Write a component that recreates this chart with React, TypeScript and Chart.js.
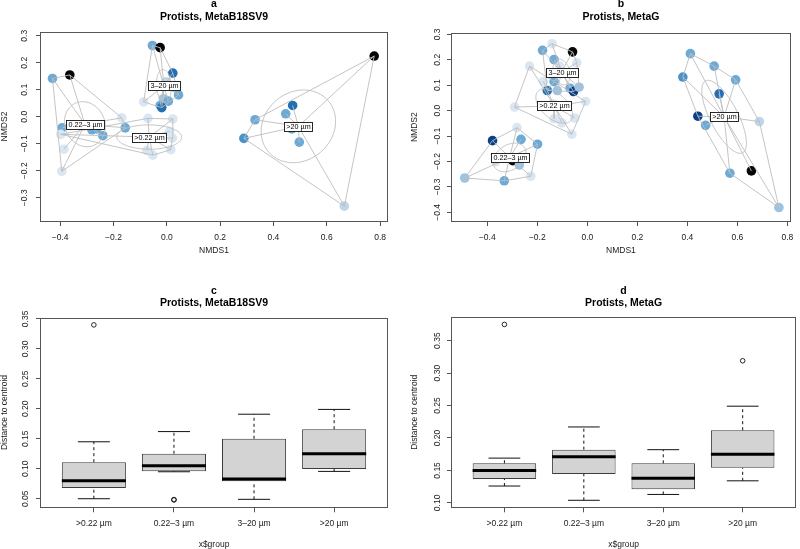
import React, { useEffect, useRef } from "react";
import { Chart, registerables } from "chart.js";

Chart.register(...registerables);

const FONT = "'Liberation Sans', Arial, Helvetica, sans-serif";

// ---------- categories & ticks ----------
const groupNames = [">0.22 µm", "0.22–3 µm", "3–20 µm", ">20 µm"];
const nmdsXTicks = [-0.4, -0.2, 0.0, 0.2, 0.4, 0.6, 0.8];
const aYTicks = [-0.3, -0.2, -0.1, 0.0, 0.1, 0.2, 0.3];
const bYTicks = [-0.4, -0.3, -0.2, -0.1, 0.0, 0.1, 0.2, 0.3];
const boxXTicks = [1, 2, 3, 4];
const cYTicks = [0.05, 0.1, 0.15, 0.2, 0.25, 0.3, 0.35];
const dYTicks = [0.1, 0.15, 0.2, 0.25, 0.3, 0.35];

// ---------- panel a : NMDS, MetaB18SV9 ----------
const aG1X = [-0.398, -0.071, 0.0225, 0.01, 0.021, 0.015, -0.075, -0.0525];
const aG1Y = [-0.065, -0.006, -0.008, -0.054, -0.079, -0.122, -0.125, -0.142];
const aG1Shade = [0, 0, 0, 0, 0, 0, 0, 0];
const aG2X = [-0.429, -0.364, -0.393, -0.386, -0.394, -0.281, -0.2625, -0.24, -0.156, -0.169];
const aG2Y = [0.142, 0.155, -0.041, -0.12, -0.202, -0.048, -0.045, -0.07, -0.041, -0.004];
const aG2Shade = [3, 7, 3, 0, 0, 3, 3, 3, 3, 0];
const aG3X = [-0.087, -0.054, -0.025, 0.0225, -0.003, 0.032, 0.044, -0.013, 0.006, -0.025, -0.019];
const aG3Y = [0.055, 0.264, 0.256, 0.162, 0.13, 0.109, 0.081, 0.067, 0.058, 0.042, 0.034];
const aG3Shade = [0, 3, 7, 5, 1, 2, 3, 2, 3, 3, 5];
const aG4X = [0.778, 0.472, 0.446, 0.331, 0.289, 0.497, 0.469, 0.666];
const aG4Y = [0.225, 0.042, 0.011, -0.011, -0.08, -0.094, -0.045, -0.331];
const aG4Shade = [7, 5, 3, 3, 4, 3, 3, 1];

// ---------- panel b : NMDS, MetaG ----------
const bG1X = [-0.291, -0.137, -0.133, -0.102, -0.05, -0.062, -0.007, -0.231, -0.176];
const bG1Y = [0.014, 0.027, -0.032, -0.048, -0.029, -0.093, 0.036, 0.175, 0.114];
const bG1Shade = [0, 0, 0, 0, 0, 0, 0, 0, 0];
const bG2X = [-0.379, -0.265, -0.199, -0.298, -0.272, -0.366, -0.226, -0.332, -0.49, -0.281];
const bG2Y = [-0.118, -0.113, -0.132, -0.197, -0.214, -0.201, -0.258, -0.276, -0.265, -0.067];
const bG2Shade = [6, 3, 3, 7, 2, 0, 0, 3, 2, 0];
const bG3X = [-0.141, -0.179, -0.059, -0.133, -0.111, -0.042, -0.133, -0.16, -0.12, -0.069, -0.055, -0.033];
const bG3Y = [0.263, 0.237, 0.231, 0.201, 0.175, 0.188, 0.114, 0.079, 0.079, 0.088, 0.075, 0.092];
const bG3Shade = [0, 3, 7, 3, 0, 0, 3, 5, 2, 3, 6, 2];
const bG4X = [0.412, 0.507, 0.382, 0.593, 0.527, 0.442, 0.473, 0.688, 0.57, 0.656, 0.766];
const bG4Y = [0.224, 0.175, 0.132, 0.121, 0.066, -0.022, -0.058, -0.043, -0.246, -0.237, -0.381];
const bG4Shade = [3, 3, 4, 3, 5, 6, 3, 1, 3, 7, 2];

// ---------- panel c : distances, MetaB18SV9 ----------
const cLower = [0.05, 0.095, 0.049, 0.0956];
const cQ1 = [0.068, 0.096, 0.079, 0.0995];
const cMedian = [0.08, 0.105, 0.083, 0.125];
const cQ3 = [0.111, 0.125, 0.15, 0.166];
const cUpper = [0.145, 0.162, 0.191, 0.199];
const cOutGroup = [1, 2, 2];
const cOutValue = [0.34, 0.048, 0.0486];

// ---------- panel d : distances, MetaG ----------
const dLower = [0.126, 0.104, 0.113, 0.134];
const dQ1 = [0.137, 0.1445, 0.121, 0.154];
const dMedian = [0.15, 0.171, 0.138, 0.175];
const dQ3 = [0.161, 0.182, 0.161, 0.212];
const dUpper = [0.169, 0.217, 0.182, 0.249];
const dOutGroup = [1, 4];
const dOutValue = [0.375, 0.319];

// ---------- styles ----------
const SHADES = ["#dae6f2", "#bed5ea", "#9cc4e2", "#6daad6", "#4a93c8", "#236fb3", "#0c3f86", "#050505"];
const LINE = "#bdbdbd";
const AXIS = "#555555";
const TXT = "#1a1a1a";
const CHI95 = Math.sqrt(5.991); // sqrt of chi-square 0.95 quantile, 2 df (ordiellipse se, conf = 0.95)

function fmtNum(v: number, d: number) {
  const s = Math.abs(v).toFixed(d);
  return (v < -1e-9 ? "\u2212" : "") + s;
}
function mean(a: number[]) {
  return a.reduce((s, v) => s + v, 0) / a.length;
}
type P = { x: number; y: number };
function convexHull(pts: P[]): P[] {
  const p = pts.slice().sort((a, b) => a.x - b.x || a.y - b.y);
  const cross = (o: P, a: P, b: P) => (a.x - o.x) * (b.y - o.y) - (a.y - o.y) * (b.x - o.x);
  const lower: P[] = [];
  for (const q of p) {
    while (lower.length >= 2 && cross(lower[lower.length - 2], lower[lower.length - 1], q) <= 0) lower.pop();
    lower.push(q);
  }
  const upper: P[] = [];
  for (let i = p.length - 1; i >= 0; i--) {
    const q = p[i];
    while (upper.length >= 2 && cross(upper[upper.length - 2], upper[upper.length - 1], q) <= 0) upper.pop();
    upper.push(q);
  }
  upper.pop();
  lower.pop();
  return lower.concat(upper);
}
function groupGeom(x: number[], y: number[]) {
  const n = x.length;
  const cx = mean(x);
  const cy = mean(y);
  let sxx = 0, syy = 0, sxy = 0;
  for (let i = 0; i < n; i++) {
    const dx = x[i] - cx, dy = y[i] - cy;
    sxx += dx * dx; syy += dy * dy; sxy += dx * dy;
  }
  sxx /= (n - 1) * n; syy /= (n - 1) * n; sxy /= (n - 1) * n;
  const l11 = Math.sqrt(sxx);
  const l21 = sxy / l11;
  const l22 = Math.sqrt(Math.max(syy - l21 * l21, 0));
  return { cx, cy, l11, l21, l22 };
}

const framePlugin = {
  id: "rframe",
  afterDraw(chart: any) {
    const { ctx, chartArea: a } = chart;
    ctx.save();
    ctx.strokeStyle = AXIS;
    ctx.lineWidth = 1;
    const l = Math.round(a.left) - 0.5, t = Math.round(a.top) + 0.5;
    const r = Math.round(a.right) + 0.5, b = Math.round(a.bottom) + 0.5;
    ctx.strokeRect(l, t, r - l, b - t);
    ctx.restore();
  },
};

function overlayPlugin(geoms: any[]) {
  return {
    id: "ordiOverlay",
    afterDatasetsDraw(chart: any) {
      const { ctx, chartArea: a } = chart;
      const xs = chart.scales.x, ys = chart.scales.y;
      ctx.save();
      ctx.beginPath();
      ctx.rect(a.left, a.top, a.right - a.left, a.bottom - a.top);
      ctx.clip();
      ctx.strokeStyle = LINE;
      ctx.lineWidth = 0.9;
      geoms.forEach((g) => {
        ctx.beginPath();
        for (let k = 0; k <= 120; k++) {
          const th = (k / 120) * Math.PI * 2;
          const ex = g.cx + CHI95 * g.l11 * Math.cos(th);
          const ey = g.cy + CHI95 * (g.l21 * Math.cos(th) + g.l22 * Math.sin(th));
          const px = xs.getPixelForValue(ex), py = ys.getPixelForValue(ey);
          if (k === 0) ctx.moveTo(px, py); else ctx.lineTo(px, py);
        }
        ctx.closePath();
        ctx.stroke();
      });
      ctx.font = `7.2px ${FONT}`;
      ctx.textAlign = "center";
      ctx.textBaseline = "middle";
      geoms.forEach((g) => {
        const px = xs.getPixelForValue(g.cx), py = ys.getPixelForValue(g.cy);
        const w = ctx.measureText(g.label).width + 4;
        const h = 9;
        const l = Math.round(px - w / 2) + 0.5, t = Math.round(py - h / 2) + 0.5;
        ctx.fillStyle = "#ffffff";
        ctx.fillRect(l, t, Math.round(w), h);
        ctx.strokeStyle = "#111";
        ctx.lineWidth = 0.9;
        ctx.strokeRect(l, t, Math.round(w), h);
        ctx.fillStyle = "#000";
        ctx.fillText(g.label, l + Math.round(w) / 2, t + h / 2 + 0.3);
      });
      ctx.restore();
    },
  };
}

function titleOpts(letter: string, title: string, padTop: number, padBottom: number) {
  return {
    display: true,
    text: [letter, title],
    fullSize: false,
    color: "#000",
    font: { family: FONT, size: 10.5, weight: "bold", lineHeight: 1.2 },
    padding: { top: padTop, bottom: padBottom },
  };
}

const gridOpts = { display: true, drawOnChartArea: false, drawTicks: true, tickLength: 5, color: AXIS, lineWidth: 1, offset: false };

function axisX(min: number, max: number, ticks: number[], fmt: (v: number) => string, title: string, height: number, tickPad: number, titlePadBottom: number) {
  return {
    type: "linear", min, max, offset: false,
    afterBuildTicks: (s: any) => { s.ticks = ticks.map((v) => ({ value: v })); },
    afterFit: (s: any) => { s.height = height; },
    grid: gridOpts,
    border: { display: false },
    ticks: { autoSkip: false, maxRotation: 0, minRotation: 0, padding: tickPad, color: TXT, font: { family: FONT, size: 8.5 }, callback: (v: any) => fmt(Number(v)) },
    title: { display: true, text: title, color: TXT, font: { family: FONT, size: 8.5 }, padding: { top: 0, bottom: titlePadBottom } },
  };
}
function axisY(min: number, max: number, ticks: number[], fmt: (v: number) => string, title: string, width: number, tickPad: number, titlePadTop: number) {
  return {
    type: "linear", min, max, offset: false,
    afterBuildTicks: (s: any) => { s.ticks = ticks.map((v) => ({ value: v })); },
    afterFit: (s: any) => { s.width = width; },
    grid: gridOpts,
    border: { display: false },
    ticks: { autoSkip: false, minRotation: 90, maxRotation: 90, crossAlign: "center", padding: tickPad, color: TXT, font: { family: FONT, size: 8.5 }, callback: (v: any) => fmt(Number(v)) },
    title: { display: true, text: title, color: TXT, font: { family: FONT, size: 8.5 }, padding: { top: titlePadTop, bottom: 0 } },
  };
}

function lineDs(data: any[], color: string, width: number, order: number, dash: number[] = []) {
  return { type: "line", data, borderColor: color, borderWidth: width, borderDash: dash, pointRadius: 0, pointHitRadius: 0, fill: false, tension: 0, spanGaps: false, borderCapStyle: "butt", order };
}

type Grp = { x: number[]; y: number[]; shade: number[] };

function nmdsConfig(p: any) {
  const datasets: any[] = [];
  const geoms: any[] = [];
  p.groups.forEach((g: Grp, gi: number) => {
    const pts = g.x.map((x, i) => ({ x, y: g.y[i] }));
    const ge = groupGeom(g.x, g.y);
    geoms.push({ ...ge, label: groupNames[gi] });
    const hull = convexHull(pts);
    hull.push(hull[0]);
    datasets.push(lineDs(hull, LINE, 0.9, 1));
    const spider: any[] = [];
    pts.forEach((pt) => { spider.push({ x: ge.cx, y: ge.cy }, pt, { x: null, y: null }); });
    datasets.push(lineDs(spider, LINE, 0.9, 1));
  });
  p.groups.forEach((g: Grp) => {
    datasets.push({
      type: "scatter",
      data: g.x.map((x, i) => ({ x, y: g.y[i] })),
      pointRadius: 4.8,
      pointHoverRadius: 4.8,
      pointBackgroundColor: g.shade.map((s) => SHADES[s]),
      pointBorderWidth: 0,
      pointBorderColor: "rgba(0,0,0,0)",
      order: 2,
    });
  });
  const f1 = (v: number) => fmtNum(v, 1);
  return {
    type: "scatter",
    data: { datasets },
    options: {
      animation: false, responsive: false, maintainAspectRatio: false, events: [],
      layout: { padding: { left: 0, right: p.padRight, top: 0, bottom: 0 } },
      plugins: { legend: { display: false }, tooltip: { enabled: false }, title: titleOpts(p.letter, p.title, p.tPadTop, p.tPadBottom) },
      scales: {
        x: axisX(p.xMin, p.xMax, nmdsXTicks, f1, "NMDS1", p.xH, 6.6, p.xTitlePad),
        y: axisY(p.yMin, p.yMax, p.yTicks, f1, "NMDS2", p.yW, p.yTickPad, p.yTitlePad),
      },
    },
    plugins: [framePlugin, overlayPlugin(geoms)],
  };
}

function boxConfig(p: any) {
  const HALF = 0.4; // boxwex 0.8
  const CAP = 0.2; // staplewex 0.5
  const boxes = p.q1.map((q: number, i: number) => ({ x: boxXTicks[i], y: [q, p.q3[i]] }));
  const whisk: any[] = [];
  const caps: any[] = [];
  const meds: any[] = [];
  boxXTicks.forEach((bx, i) => {
    whisk.push({ x: bx, y: p.q3[i] }, { x: bx, y: p.upper[i] }, { x: null, y: null });
    whisk.push({ x: bx, y: p.lower[i] }, { x: bx, y: p.q1[i] }, { x: null, y: null });
    caps.push({ x: bx - CAP, y: p.upper[i] }, { x: bx + CAP, y: p.upper[i] }, { x: null, y: null });
    caps.push({ x: bx - CAP, y: p.lower[i] }, { x: bx + CAP, y: p.lower[i] }, { x: null, y: null });
    meds.push({ x: bx - HALF, y: p.median[i] }, { x: bx + HALF, y: p.median[i] }, { x: null, y: null });
  });
  const outs = p.outGroup.map((g: number, i: number) => ({ x: g, y: p.outValue[i] }));
  const datasets = [
    { type: "bar", data: boxes, backgroundColor: "#d3d3d3", borderColor: "#3c3c3c", borderWidth: 1, borderSkipped: false, categoryPercentage: 0.8, barPercentage: 1.0, order: 4 },
    lineDs(whisk, "#111", 1, 3, [3, 3]),
    lineDs(caps, "#111", 1, 2),
    lineDs(meds, "#000", 3, 1),
    { type: "scatter", data: outs, pointRadius: 2.3, pointBorderWidth: 0.9, pointBorderColor: "#111", pointBackgroundColor: "rgba(0,0,0,0)", order: 0 },
  ];
  const f2 = (v: number) => v.toFixed(2);
  const fx = (v: number) => groupNames[Math.round(v) - 1] || "";
  return {
    type: "bar",
    data: { datasets },
    options: {
      animation: false, responsive: false, maintainAspectRatio: false, events: [],
      layout: { padding: { left: 0, right: p.padRight, top: 0, bottom: 0 } },
      plugins: { legend: { display: false }, tooltip: { enabled: false }, title: titleOpts(p.letter, p.title, p.tPadTop, p.tPadBottom) },
      scales: {
        x: axisX(0.34, 4.66, boxXTicks, fx, "x$group", p.xH, 5.9, p.xTitlePad),
        y: axisY(p.yMin, p.yMax, p.yTicks, f2, "Distance to centroid", p.yW, p.yTickPad, p.yTitlePad),
      },
    },
    plugins: [framePlugin],
  };
}

const makeA = () =>
  nmdsConfig({
    groups: [
      { x: aG1X, y: aG1Y, shade: aG1Shade },
      { x: aG2X, y: aG2Y, shade: aG2Shade },
      { x: aG3X, y: aG3Y, shade: aG3Shade },
      { x: aG4X, y: aG4Y, shade: aG4Shade },
    ],
    letter: "a", title: "Protists, MetaB18SV9",
    xMin: -0.472, xMax: 0.826, yMin: -0.386, yMax: 0.314, yTicks: aYTicks,
    padRight: 13, yW: 41, xH: 49, tPadTop: 2.3, tPadBottom: 8.5, xTitlePad: 13.9, yTickPad: 3.3, yTitlePad: -0.6,
  });
const makeB = () =>
  nmdsConfig({
    groups: [
      { x: bG1X, y: bG1Y, shade: bG1Shade },
      { x: bG2X, y: bG2Y, shade: bG2Shade },
      { x: bG3X, y: bG3Y, shade: bG3Shade },
      { x: bG4X, y: bG4Y, shade: bG4Shade },
    ],
    letter: "b", title: "Protists, MetaG",
    xMin: -0.541, xMax: 0.81, yMin: -0.434, yMax: 0.304, yTicks: bYTicks,
    padRight: 3, yW: 52, xH: 49, tPadTop: 2.3, tPadBottom: 9.8, xTitlePad: 13.9, yTickPad: 1.2, yTitlePad: 9.9,
  });
const makeC = () =>
  boxConfig({
    lower: cLower, q1: cQ1, median: cMedian, q3: cQ3, upper: cUpper, outGroup: cOutGroup, outValue: cOutValue,
    letter: "c", title: "Protists, MetaB18SV9",
    yMin: 0.0357, yMax: 0.352, yTicks: cYTicks,
    padRight: 13, yW: 41, xH: 47.7, tPadTop: 14.5, tPadBottom: 8.0, xTitlePad: 4.9, yTickPad: 2.4, yTitlePad: -0.6,
  });
const makeD = () =>
  boxConfig({
    lower: dLower, q1: dQ1, median: dMedian, q3: dQ3, upper: dUpper, outGroup: dOutGroup, outValue: dOutValue,
    letter: "d", title: "Protists, MetaG",
    yMin: 0.0932, yMax: 0.386, yTicks: dYTicks,
    padRight: 2, yW: 52, xH: 47.7, tPadTop: 14.5, tPadBottom: 7.6, xTitlePad: 4.9, yTickPad: 1.3, yTitlePad: 9.9,
  });

function Panel({ left, top, width, height, make }: { left: number; top: number; width: number; height: number; make: () => any }) {
  const ref = useRef<HTMLCanvasElement>(null);
  useEffect(() => {
    if (!ref.current) return;
    const chart = new Chart(ref.current, make());
    return () => chart.destroy();
  }, [make]);
  return (
    <canvas
      ref={ref}
      width={width}
      height={height}
      style={{ position: "absolute", left, top, width, height, display: "block" }}
    />
  );
}

export default function App() {
  return (
    <div style={{ position: "fixed", left: 0, top: 0, width: 800, height: 549, overflow: "hidden", background: "#ffffff" }}>
      <Panel left={0} top={-4} width={400} height={274} make={makeA} />
      <Panel left={400} top={-4} width={400} height={274} make={makeB} />
      <Panel left={0} top={270} width={400} height={285} make={makeC} />
      <Panel left={400} top={270} width={400} height={285} make={makeD} />
    </div>
  );
}
